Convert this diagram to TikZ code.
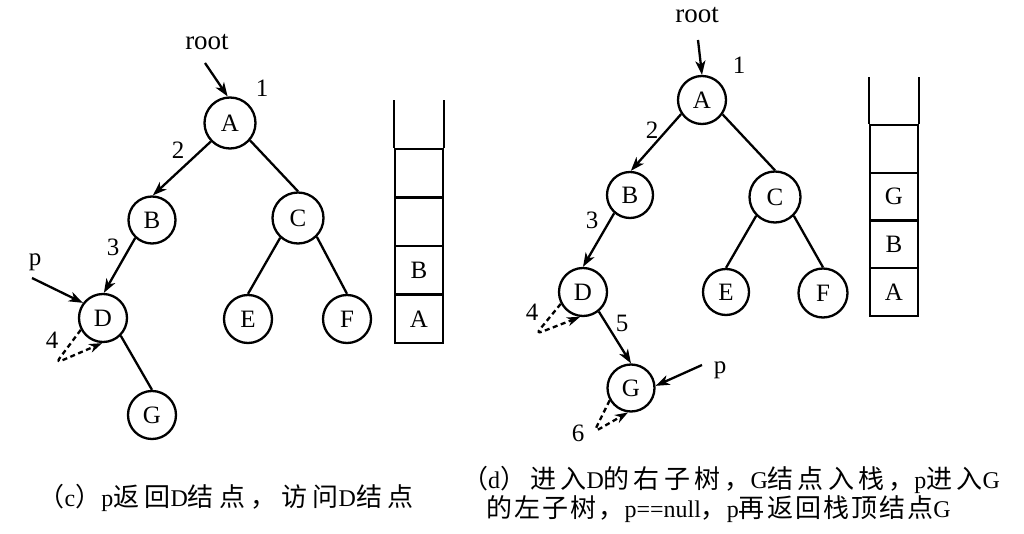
\documentclass[tikz,border=0pt]{standalone}
\usepackage{fontspec}
\setmainfont{Liberation Serif}
\newfontfamily\cjkfont[LetterSpace=16]{Noto Sans CJK SC}
\newfontfamily\cjkfontb[LetterSpace=8]{Noto Sans CJK SC}
\newfontfamily\cjkfontc[LetterSpace=20]{Noto Sans CJK SC}
\usetikzlibrary{arrows.meta}
\newcommand\zhtext[1]{{\cjkfont\fontsize{26}{30}\selectfont #1}}
\newcommand\zhtextb[1]{{\cjkfontb\fontsize{26}{30}\selectfont #1}}
\newcommand\zhtextc[1]{{\cjkfontc\fontsize{26}{30}\selectfont #1}}
\begin{document}
\begin{tikzpicture}[x=1pt,y=-1pt,
  every node/.style={font=\fontsize{25}{29}\selectfont},
  vert/.style={circle,draw,line width=2.3pt,minimum size=48pt,inner sep=0pt},
  edge/.style={line width=2.3pt},
  arr/.style={edge,-{Stealth[length=14pt,width=10pt,inset=4pt]}},
  loopd/.style={edge,-{Stealth[length=13pt,width=9pt,inset=4pt]},dash pattern=on 5pt off 3.5pt,rounded corners=6pt},
  lbl/.style={inner sep=0pt},
  cell/.style={draw,line width=2.3pt,minimum width=48pt,minimum height=48.5pt,inner sep=0pt},
  captext/.style={inner sep=0pt,font=\fontsize{24}{28}\selectfont}]
\useasboundingbox (0,0) rectangle (1024,534);

% ---------------- left panel (c) ----------------
\node[vert,minimum size=51pt] (LA) at (230,123) {A};
\node[vert,minimum size=47pt] (LB) at (152,220) {B};
\node[vert,minimum size=51pt] (LC) at (298,218) {C};
\node[vert] (LD) at (103,318) {D};
\node[vert] (LE) at (248,319) {E};
\node[vert] (LF) at (347,319) {F};
\node[vert] (LG) at (152,415) {G};

\node[lbl,font=\fontsize{27}{31}\selectfont] (Lroot) at (207,42) {root};
\node[lbl] (L1) at (262,88) {1};
\node[lbl] (L2) at (178,150) {2};
\node[lbl] (L3) at (113,247) {3};
\node[lbl] (Lp) at (35,262) {p};
\node[lbl] (L4) at (52,340) {4};

\coordinate (Lrootstart) at (205,63);
\coordinate (Lpstart) at (32,278);
\coordinate (Lloop) at (56,363);

\draw[arr] (Lrootstart) -- (LA.95);
\draw[arr] (LA.-136) -- (LB.88);
\draw[arr] (LB.-133) -- (LD.88);
\draw[edge] (LA.-41) -- (LC.90);
\draw[edge] (LC.-132) -- (LE.90);
\draw[edge] (LC.-45) -- (LF.90);
\draw[edge] (LD.-45) -- (LG.90);
\draw[arr] (Lpstart) -- (LD.143);
\draw[loopd] (LD.-152) -- (Lloop) -- (LD.-92);

% left stack
\node[cell] (sL1) at (419,318.75) {A};
\node[cell] (sL2) at (419,270.25) {B};
\node[cell] (sL3) at (419,221.75) {};
\node[cell] (sL4) at (419,173.25) {};
\coordinate (sLtop) at (419,100);
\draw[edge] (sL4.north west) -- (sL4.north west |- sLtop);
\draw[edge] (sL4.north east) -- (sL4.north east |- sLtop);

% ---------------- right panel (d) ----------------
\node[vert] (RA) at (702,100) {A};
\node[vert,minimum size=46pt] (RB) at (630,195) {B};
\node[vert,minimum size=51pt] (RC) at (775,197) {C};
\node[vert] (RD) at (583,292) {D};
\node[vert,minimum size=46pt] (RE) at (726,292) {E};
\node[vert,minimum size=49pt] (RF) at (823,293) {F};
\node[vert,minimum size=47pt] (RG) at (631,388) {G};

\node[lbl,font=\fontsize{27}{31}\selectfont] (Rroot) at (697,15) {root};
\node[lbl] (R1) at (739,65) {1};
\node[lbl] (R2) at (652,130) {2};
\node[lbl] (R3) at (592,220) {3};
\node[lbl] (R4) at (532,312) {4};
\node[lbl] (R5) at (622,323) {5};
\node[lbl] (R6) at (578,433) {6};
\node[lbl] (Rp) at (720,370) {p};

\coordinate (Rrootstart) at (698,40);
\coordinate (Rpstart) at (702,365);
\coordinate (RloopD) at (536,334);
\coordinate (RloopG) at (594,432);

\draw[arr] (Rrootstart) -- (RA.90);
\draw[arr] (RA.-146) -- (RB.88);
\draw[edge] (RA.-35) -- (RC.90);
\draw[arr] (RB.-131) -- (RD.90);
\draw[edge] (RC.-135) -- (RE.90);
\draw[edge] (RC.-45) -- (RF.90);
\draw[arr] (RD.-51) -- (RG.90);
\draw[arr] (Rpstart) -- (RG.5);
\draw[loopd] (RD.-152) -- (RloopD) -- (RD.-97);
\draw[loopd] (RG.-150) -- (RloopG) -- (RG.-97);

% right stack
\node[cell,minimum height=47.75pt] (sR1) at (894,292.1) {A};
\node[cell,minimum height=47.75pt] (sR2) at (894,244.4) {B};
\node[cell,minimum height=47.75pt] (sR3) at (894,196.6) {G};
\node[cell,minimum height=47.75pt] (sR4) at (894,148.9) {};
\coordinate (sRtop) at (894,77);
\draw[edge] (sR4.north west) -- (sR4.north west |- sRtop);
\draw[edge] (sR4.north east) -- (sR4.north east |- sRtop);

% ---------------- captions ----------------
\node[captext] (capL) at (226,498) {\zhtextc{（}c\zhtextc{）}p\zhtextc{返回}D\zhtextc{结点，访问}D\zhtextc{结点}};
\node[captext,anchor=west] (capR1) at (462,480) {\zhtext{（}d\zhtext{）进入}D\zhtext{的右子树，}G\zhtext{结点入栈，}p\zhtext{进入}G};
\node[captext,anchor=west] (capR2) at (486,509) {\zhtextb{的左子树，}p==null\zhtextb{，}p\zhtextb{再返回栈顶结点}G};
\end{tikzpicture}
\end{document}
